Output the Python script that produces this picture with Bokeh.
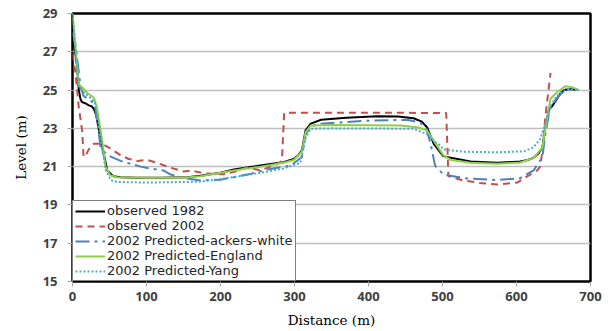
from bokeh.plotting import figure
from bokeh.models import FixedTicker, Range1d
from bokeh.embed import file_html
from bokeh.resources import INLINE

# Water level profiles along the reach (distance in m, level in m)
obs1982_d = [0, 2.7, 6.3, 8.5, 11, 13, 18, 22, 26, 29, 32, 35, 38, 42, 47, 55, 65, 87, 120,
             155, 173, 200, 218, 240, 254, 270, 285, 299, 305, 310, 315, 322, 336, 370, 412,
             440, 461, 472, 479, 484, 488, 497, 501, 511, 538, 574, 605, 615, 623, 630, 635,
             639, 644, 648, 653, 659, 664, 673, 684]
obs1982_l = [27.4, 27.24, 26.2, 25.0, 24.5, 24.37, 24.3, 24.2, 24.15, 24.0, 23.7, 23.06, 22.4,
             21.7, 20.8, 20.5, 20.45, 20.42, 20.42, 20.45, 20.53, 20.68, 20.85, 20.98, 21.06,
             21.15, 21.23, 21.4, 21.6, 21.85, 22.9, 23.25, 23.45, 23.55, 23.63, 23.62, 23.53,
             23.35, 23.06, 22.6, 22.2, 21.75, 21.55, 21.46, 21.27, 21.2, 21.27, 21.35, 21.46,
             21.7, 22.0, 23.06, 24.0, 24.15, 24.45, 24.8, 25.0, 25.05, 25.0]

obs2002_d = [0, 4, 8.5, 13, 15, 18, 22, 29, 40, 51, 65, 76, 88, 101, 114, 132, 150, 160, 177,
             204, 220, 236, 254, 277, 283, 286, 300, 400, 505, 508, 528, 550, 574, 601, 619,
             628, 632, 635, 639, 646]
obs2002_l = [26.9, 25.9, 24.1, 22.9, 21.5, 21.6, 21.9, 22.2, 22.2, 21.95, 21.6, 21.4, 21.3,
             21.35, 21.2, 20.95, 20.75, 20.8, 20.65, 20.6, 20.75, 20.97, 20.8, 21.15, 21.3,
             23.8, 23.82, 23.82, 23.8, 20.5, 20.28, 20.15, 20.07, 20.17, 20.6, 20.8, 21.0,
             21.8, 23.6, 25.9]

ackers_d = [0, 4, 11, 15, 24, 30, 34, 38, 47, 65, 92, 105, 123, 132, 150, 173, 200, 218, 240,
            263, 295, 310, 315, 322, 335, 398, 452, 470, 478, 484, 490, 501, 528, 574, 605,
            623, 635, 639, 645, 653, 660, 670, 684]
ackers_l = [28.0, 27.4, 25.15, 24.7, 24.45, 24.3, 23.2, 22.0, 21.6, 21.3, 21.0, 20.9, 20.8,
            20.6, 20.4, 20.28, 20.32, 20.45, 20.62, 20.85, 21.06, 21.5, 22.7, 23.1, 23.24,
            23.4, 23.45, 23.3, 23.0, 22.2, 21.05, 20.6, 20.4, 20.3, 20.4, 20.8, 21.5, 22.7,
            24.0, 24.5, 24.8, 25.05, 25.0]

england_d = [0, 4, 8.5, 15, 20, 29, 33, 40, 44.6, 51, 60, 100, 150, 173, 218, 254, 285, 299,
             310, 315, 322, 353, 443, 466, 479, 488, 501, 511, 538, 574, 605, 623, 635, 639,
             646, 655, 666, 675, 684]
england_l = [29.0, 27.2, 25.3, 25.07, 24.85, 24.6, 24.1, 22.4, 21.0, 20.55, 20.45, 20.42,
             20.42, 20.5, 20.8, 21.0, 21.2, 21.35, 21.8, 22.8, 23.15, 23.18, 23.15, 23.06,
             22.9, 22.36, 21.6, 21.35, 21.2, 21.15, 21.22, 21.45, 22.0, 23.0, 24.55, 24.9,
             25.2, 25.15, 25.0]

yang_d = [0, 4, 8.5, 15, 24, 30, 34, 40, 45, 52, 60, 100, 155, 173, 218, 250, 285, 308, 315,
          322, 350, 461, 479, 488, 497, 501, 528, 574, 610, 623, 632, 639, 645, 653, 660, 670,
          684]
yang_l = [29.0, 27.2, 25.2, 24.9, 24.6, 24.4, 23.5, 22.0, 20.8, 20.3, 20.2, 20.17, 20.2,
          20.22, 20.45, 20.65, 20.9, 21.2, 22.5, 22.98, 23.0, 22.98, 22.7, 22.35, 22.1, 21.9,
          21.78, 21.75, 21.8, 22.0, 22.45, 23.25, 24.1, 24.6, 24.9, 25.05, 25.0]

x_ticks = [0, 100, 200, 300, 400, 500, 600, 700]
y_ticks = [15, 17, 19, 21, 23, 25, 27, 29]

p = figure(width=608, height=331, output_backend="svg", toolbar_location=None,
           x_range=Range1d(0, 700), y_range=Range1d(15, 29),
           min_border_left=72, min_border_right=18, min_border_top=13, min_border_bottom=50)

p.line(obs1982_d, obs1982_l, color="#000000", line_width=2, legend_label="observed 1982")
p.line(obs2002_d, obs2002_l, color="#c0504d", line_width=2, line_dash="7 5",
       legend_label="observed 2002")
p.line(ackers_d, ackers_l, color="#4f81bd", line_width=2, line_dash="14 5 3 5",
       legend_label="2002 Predicted-ackers-white")
p.line(england_d, england_l, color="#8fcf4a", line_width=2,
       legend_label="2002 Predicted-England")
p.line(yang_d, yang_l, color="#4bacc6", line_width=2, line_dash="2 2",
       legend_label="2002 Predicted-Yang")

# Axes
p.xaxis.ticker = FixedTicker(ticks=x_ticks)
p.yaxis.ticker = FixedTicker(ticks=y_ticks)
p.xaxis.axis_label = "Distance (m)"
p.yaxis.axis_label = "Level (m)"
for ax in (p.xaxis, p.yaxis):
    ax.axis_line_color = None
    ax.major_tick_line_color = "#a6a6a6"
    ax.major_tick_in = 0
    ax.major_tick_out = 5
    ax.minor_tick_line_color = None
    ax.major_label_text_font = "Open Sans"
    ax.major_label_text_font_size = "13px"
    ax.major_label_text_font_style = "bold"
    ax.major_label_text_color = "#404040"
    ax.axis_label_text_font = "DejaVu Serif"
    ax.axis_label_text_font_size = "13.5px"
    ax.axis_label_text_font_style = "normal"
    ax.axis_label_text_color = "#000000"
p.yaxis.major_label_standoff = 10
p.xaxis.major_label_standoff = 5
p.xaxis.axis_label_standoff = 8
p.yaxis.axis_label_standoff = 11

p.xgrid.grid_line_color = None
p.ygrid.ticker = FixedTicker(ticks=y_ticks)
p.ygrid.grid_line_color = "#bfbfbf"
p.ygrid.grid_line_width = 1.5

p.outline_line_color = "#000000"
p.outline_line_width = 2.5
p.outline_line_alpha = 1
p.background_fill_color = "white"
p.border_fill_color = "white"

lg = p.legend[0]
lg.location = "bottom_left"
lg.margin = 0
lg.padding = 2
lg.spacing = 0
lg.border_line_color = "#000000"
lg.border_line_width = 1.5
lg.background_fill_alpha = 1
lg.label_text_font = "DejaVu Sans"
lg.label_text_font_size = "13px"
lg.label_text_color = "#262626"
lg.glyph_width = 30
lg.glyph_height = 12
lg.label_height = 12
lg.label_standoff = 2

open("out.html", "w").write(file_html(p, INLINE))
